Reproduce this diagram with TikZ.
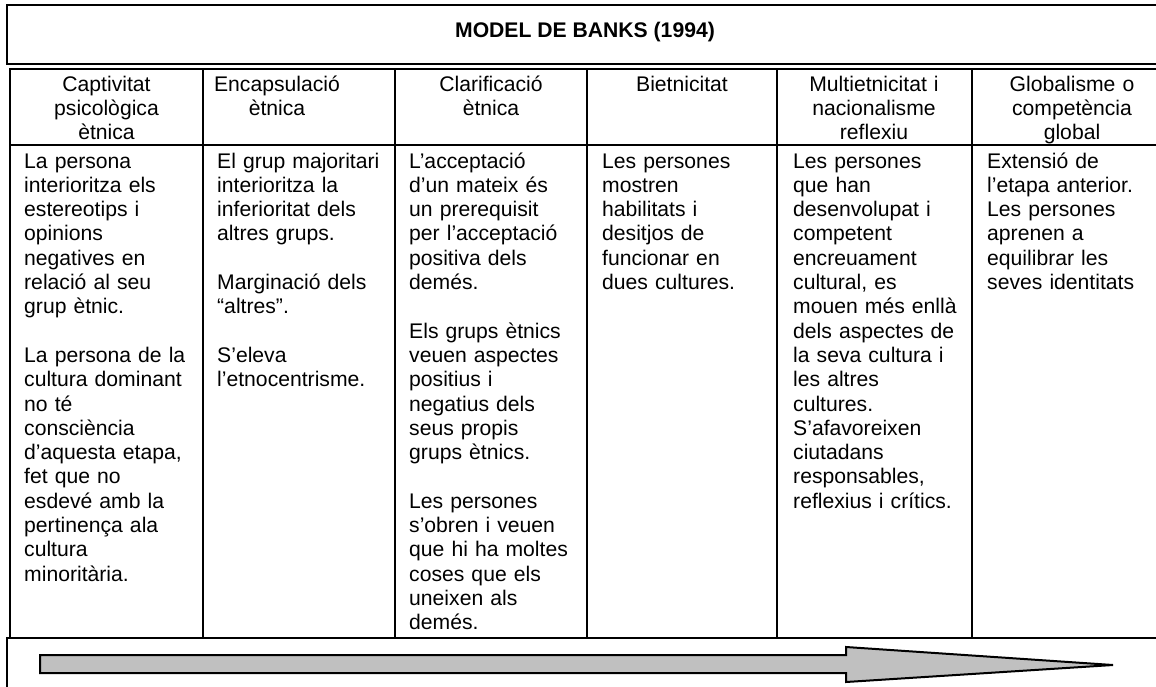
\documentclass[tikz,border=0pt]{standalone}
\usepackage{fontspec}
\setmainfont{Liberation Sans}
\definecolor{arrowgray}{RGB}{192,192,192}
\begin{document}
\begin{tikzpicture}[x=1pt,y=-1pt,
  body/.style={anchor=base west, inner sep=0pt, text width=180pt, align=left, font=\fontsize{21.15}{24.3}\selectfont},
  head/.style={anchor=base, inner sep=0pt, text width=185pt, align=center, font=\fontsize{21.15}{24}\selectfont},
  frame/.style={draw=black, line width=1.5pt},
]
\useasboundingbox (0,0) rectangle (1156,686);
\clip (0,0) rectangle (1156,686);
% title box
\draw[line width=2pt] (7,5) rectangle (1163,64);
\node[anchor=base, inner sep=0pt, font=\bfseries\fontsize{21.15}{24}\selectfont] (title) at (585,37) {MODEL DE BANKS (1994)};
% table
\draw[frame] (10,69) rectangle (1170,638);
\draw[frame] (10,145) -- (1170,145);
\foreach \x in {203,395,587,777,972} \draw[frame] (\x,69) -- (\x,638);
% bottom box
\draw[line width=1.5pt] (7,700) -- (7,638) -- (1170,638);
% headers
\node[head] (h1) at (106.5,91) {Captivitat\\ psicològica\\ ètnica};
\node[head] (h2) at (277,91) {Encapsulació\\ ètnica};
\node[head] (h3) at (491,91) {Clarificació\\ ètnica};
\node[head] (h4) at (682,91) {Bietnicitat};
\node[head] (h5) at (874,91) {Multietnicitat i\\ nacionalisme\\ reflexiu};
\node[head] (h6) at (1072,91) {Globalisme o\\ competència\\ global};
% body
\node[body] (b1) at (24,168) {La persona\\ interioritza els\\ estereotips i\\ opinions\\ negatives en\\ relació al seu\\ grup ètnic.\\[24.3pt] La persona de la\\ cultura dominant\\ no té\\ consciència\\ d’aquesta etapa,\\ fet que no\\ esdevé amb la\\ pertinença ala\\ cultura\\ minoritària.};
\node[body] (b2) at (217,168) {El grup majoritari\\ interioritza la\\ inferioritat dels\\ altres grups.\\[24.3pt] Marginació dels\\ “altres”.\\[24.3pt] S’eleva\\ l’etnocentrisme.};
\node[body] (b3) at (409,168) {L’acceptació\\ d’un mateix és\\ un prerequisit\\ per l’acceptació\\ positiva dels\\ demés.\\[24.3pt] Els grups ètnics\\ veuen aspectes\\ positius i\\ negatius dels\\ seus propis\\ grups ètnics.\\[24.3pt] Les persones\\ s’obren i veuen\\ que hi ha moltes\\ coses que els\\ uneixen als\\ demés.};
\node[body] (b4) at (602,168) {Les persones\\ mostren\\ habilitats i\\ desitjos de\\ funcionar en\\ dues cultures.};
\node[body] (b5) at (793,168) {Les persones\\ que han\\ desenvolupat i\\ competent\\ encreuament\\ cultural, es\\ mouen més enllà\\ dels aspectes de\\ la seva cultura i\\ les altres\\ cultures.\\ S’afavoreixen\\ ciutadans\\ responsables,\\ reflexius i crítics.};
\node[body] (b6) at (987,168) {Extensió de\\ l’etapa anterior.\\ Les persones\\ aprenen a\\ equilibrar les\\ seves identitats};
% arrow
\draw[line width=2pt, fill=arrowgray, line join=miter] (40,655) -- (846,655) -- (846,647) -- (1113,665) -- (846,682) -- (846,673) -- (40,673) -- cycle;
\end{tikzpicture}
\end{document}
